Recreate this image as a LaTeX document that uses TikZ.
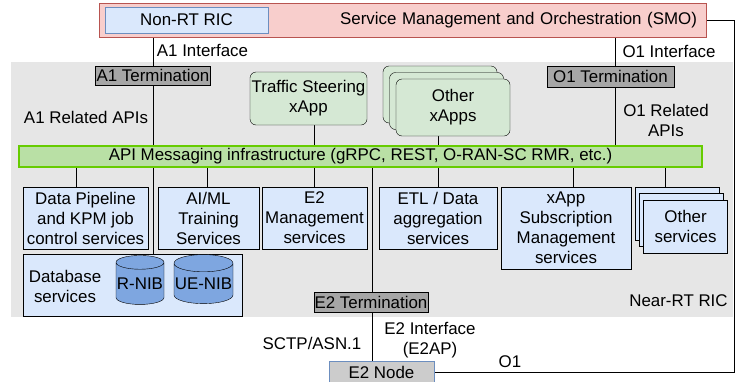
\documentclass[tikz,border=0pt]{standalone}
\usepackage{fontspec}
\setmainfont{Liberation Sans}
\usepackage{tikz}
\usetikzlibrary{shapes,shapes.geometric}
\pgfdeclarelayer{bg}
\pgfdeclarelayer{wires}
\pgfsetlayers{bg,wires,main}
\definecolor{smofill}{HTML}{F8CECC}
\definecolor{smoline}{HTML}{B85450}
\definecolor{bluefill}{HTML}{DAE8FC}
\definecolor{blueline}{HTML}{6C8EBF}
\definecolor{greenfill}{HTML}{D5E8D4}
\definecolor{apifill}{HTML}{B9E0A5}
\definecolor{apiline}{HTML}{66CC00}
\definecolor{ricgray}{HTML}{E6E6E6}
\definecolor{termgray}{HTML}{A6A6A6}
\definecolor{nibfill}{HTML}{7EA6E0}

\begin{document}
\begin{tikzpicture}[x=1pt, y=-1pt, line width=0.9pt,
        font=\fontsize{16.9}{20}\selectfont,
        every node/.append style={inner sep=0pt, align=center, text=black}]
      \tikzstyle{svc} = [draw=black, fill=bluefill]
      \tikzstyle{term} = [draw=black, fill=termgray]
      \tikzstyle{xapp} = [draw=black, fill=greenfill, rounded corners=6pt]
      \tikzstyle{nib} = [cylinder, shape border rotate=90, aspect=0.3, draw=black, fill=nibfill]
      \useasboundingbox (0,0) rectangle (736,381);
      % Near-RT RIC area
      \begin{pgfonlayer}{bg}
        \fill[ricgray] (11,62) rectangle (733,317);
      \end{pgfonlayer}
      \node (nearrt) at (678.5,301) {Near-RT RIC};
      % SMO and Non-RT RIC
      \node (smo) [draw=smoline, fill=smofill, minimum width=607, minimum height=34,
        text width=589, align=right] at (402.5,20) {Service Management and Orchestration (SMO)};
      \node (nonrt) [draw=blueline, fill=bluefill, minimum width=163, minimum height=26] at (186.5,20) {Non-RT RIC};
      % terminations
      \node (a1term) [term, minimum width=115, minimum height=19] at (153,75.5) {A1 Termination};
      \node (o1term) [term, minimum width=127, minimum height=21] at (610.5,76.5) {O1 Termination};
      \node (e2term) [term, minimum width=114, minimum height=20] at (371,302) {E2 Termination};
      \node (e2node) [draw=blueline, fill=black!20, minimum width=105, minimum height=22] at (381.5,372) {E2 Node};
      % xApps
      \node (tsx) [xapp, minimum width=117, minimum height=53] at (308.5,98.5) {Traffic Steering\\xApp};
      \node (oxa) [xapp, minimum width=114, minimum height=57] at (440,94.5) {};
      \node (oxb) [xapp, minimum width=114, minimum height=57] at (446.5,101) {};
      \node (oxc) [xapp, minimum width=114, minimum height=57] at (453,107.5) {Other\\xApps};
      % messaging bus
      \node (api) [draw=apiline, line width=2pt, fill=apifill, minimum width=683, minimum height=21] at (360.5,156.5)
        {API Messaging infrastructure (gRPC, REST, O-RAN-SC RMR, etc.)};
      % platform services
      \node (dp) [svc, minimum width=125, minimum height=62] at (85.5,218) {Data Pipeline\\and KPM job\\control services};
      \node (aiml) [svc, minimum width=101, minimum height=62] at (208.5,218) {AI/ML\\Training\\Services};
      \node (e2m) [svc, minimum width=105, minimum height=62] at (314.5,218) {E2\\Management\\services};
      \node (etl) [svc, minimum width=118, minimum height=62] at (438,218) {ETL / Data\\aggregation\\services};
      \node (subs) [svc, minimum width=130, minimum height=82] at (566,228) {xApp\\Subscription\\Management\\services};
      \node (osa) [svc, minimum width=84, minimum height=53] at (677,213.5) {};
      \node (osb) [svc, minimum width=84, minimum height=53] at (681.3,220) {};
      \node (osc) [svc, minimum width=84, minimum height=53] at (685.6,226.5) {Other\\services};
      \node (db) [svc, minimum width=219, minimum height=62] at (132.5,285) {};
      \node (dblabel) at (65,286) {Database\\services};
      \node (rnib) [nib, minimum width=48, minimum height=49] at (140,283.5) {R-NIB};
      \node (uenib) [nib, minimum width=59, minimum height=49] at (203.5,283.5) {UE-NIB};
      % interface labels
      \node (a1if) at (202.5,50) {A1 Interface};
      \node (o1if) at (669,51) {O1 Interface};
      \node (a1api) at (86,117) {A1 Related APIs};
      \node (o1api) at (666,120) {O1 Related\\APIs};
      \node (sctp) at (312,343) {SCTP/ASN.1};
      \node (e2if) at (430,340) {E2 Interface\\(E2AP)};
      \node (o1) at (510,362) {O1};
      % wires
      \coordinate (xdp) at (76,0);
      \coordinate (xaiml) at (207,0);
      \coordinate (xe2m) at (314,0);
      \coordinate (xe2) at (372,0);
      \coordinate (xsubs) at (573,0);
      \coordinate (xo1) at (615,0);
      \coordinate (xos) at (665,0);
      \coordinate (xright) at (734,0);
      \begin{pgfonlayer}{wires}
        \draw (a1term |- nonrt.south) -- (a1term |- db.north);
        \draw (xe2m |- tsx.south) -- (xe2m |- e2m.north);
        \draw (etl |- oxa.south) -- (etl.north);
        \draw (xo1 |- smo.south) -- (xo1 |- api.north);
        \draw (xdp |- api.south) -- (xdp |- dp.north);
        \draw (xaiml |- api.south) -- (xaiml |- aiml.north);
        \draw (xe2 |- api.south) -- (xe2 |- e2node.north);
        \draw (xsubs |- api.south) -- (xsubs |- subs.north);
        \draw (xos |- api.south) -- (xos |- osa.north);
        \draw (smo.east) -- (xright |- smo.east) -- (xright |- e2node.east) -- (e2node.east);
      \end{pgfonlayer}
    \end{tikzpicture}
\end{document}
